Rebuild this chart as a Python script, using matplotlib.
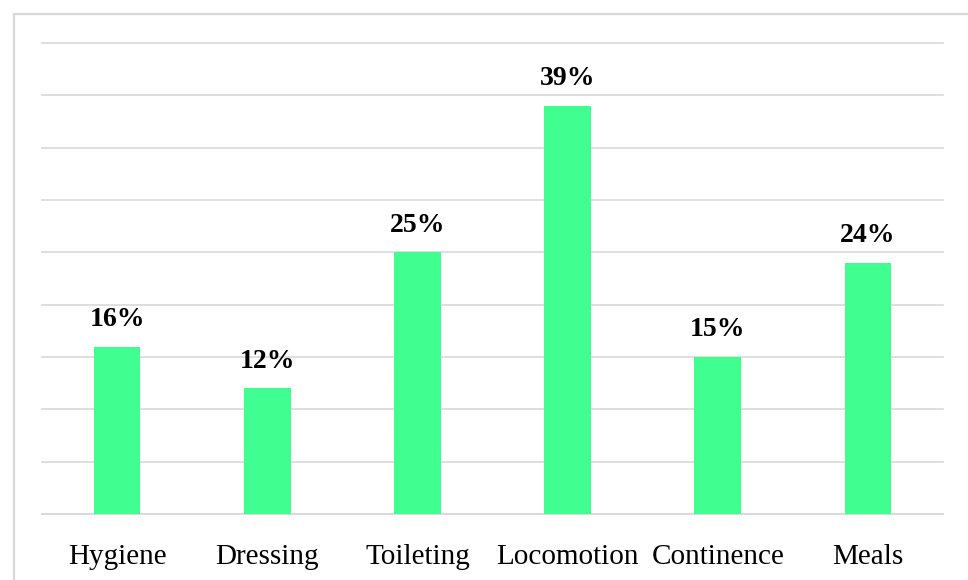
import matplotlib.pyplot as plt
from matplotlib.patches import Rectangle

categories = ["Hygiene", "Dressing", "Toileting", "Locomotion", "Continence", "Meals"]
values = [16, 12, 25, 39, 15, 24]
labels = ["16%", "12%", "25%", "39%", "15%", "24%"]

plt.rcParams['font.family'] = ['Liberation Serif', 'DejaVu Serif']

fig = plt.figure(figsize=(9.68, 5.8), dpi=100)
ax = fig.add_axes([42 / 968, 1 - 514 / 580, (943 - 42) / 968, (514 - 43) / 580])

# outer frame (only left and top visible in the reference)
fig.patches.append(Rectangle((13.5 / 968, -0.2), 1.5, 1.2 - 13.5 / 580,
                             transform=fig.transFigure, fill=False,
                             edgecolor="#d9d9d9", linewidth=1.6, zorder=0))

x = range(len(categories))
ax.bar(x, values, width=0.31, color="#40ff90", zorder=3)

for xi, v, lab in zip(x, values, labels):
    ax.annotate(lab, (xi, v), xytext=(0, 15), textcoords="offset points",
                ha="center", va="baseline", fontsize=20, fontweight="bold")

ax.set_xlim(-0.5, len(categories) - 0.5)
ax.set_ylim(0, 45)
ax.set_yticks(range(0, 46, 5))
ax.yaxis.grid(True, color="#d9d9d9", linewidth=1.2)
for gl in ax.get_ygridlines():
    gl.set_clip_on(False)
ax.set_axisbelow(True)
ax.tick_params(axis="y", left=False, labelleft=False)
ax.tick_params(axis="x", bottom=False, pad=18, labelsize=21)
ax.set_xticks(list(x))
ax.set_xticklabels(categories)
for s in ["top", "right", "left"]:
    ax.spines[s].set_visible(False)
ax.spines["bottom"].set_color("#d9d9d9")
ax.spines["bottom"].set_linewidth(1.2)

fig.savefig("out.png", dpi=100)
